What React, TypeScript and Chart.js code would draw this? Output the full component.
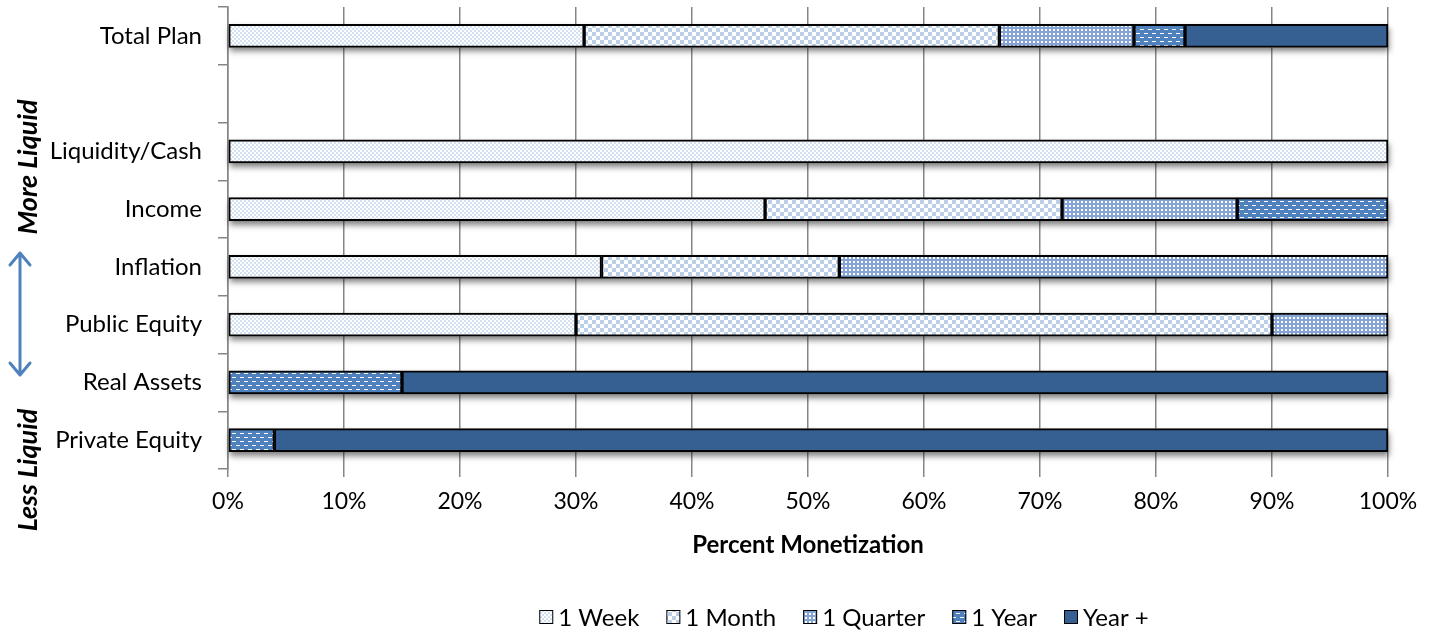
import React, { useEffect, useRef } from "react";
import { Chart, registerables } from "chart.js";

Chart.register(...registerables);

const categories = ["Total Plan", "", "Liquidity/Cash", "Income", "Inflation", "Public Equity", "Real Assets", "Private Equity"];
const seriesNames = ["1 Week", "1 Month", "1 Quarter", "1 Year", "Year +"];
const week = [30.7, null, 100, 46.3, 32.2, 30, null, null];
const month = [35.8, null, null, 25.6, 20.5, 60, null, null];
const quarter = [11.6, null, null, 15.1, 47.3, 10, null, null];
const year = [4.4, null, null, 13.0, null, null, 15, 4];
const yearPlus = [17.5, null, null, null, null, null, 85, 96];
const xTicks = [0, 10, 20, 30, 40, 50, 60, 70, 80, 90, 100];
const axisTitle = "Percent Monetization";
const sideTop = "More Liquid";
const sideBottom = "Less Liquid";

const FONT = "Lato, 'Open Sans', sans-serif";

function makePattern(kind: string): CanvasPattern | string {
  const c = document.createElement("canvas");
  const ctx = c.getContext("2d")!;
  if (kind === "week") {
    c.width = 4; c.height = 4;
    ctx.fillStyle = "#ffffff"; ctx.fillRect(0, 0, 4, 4);
    ctx.fillStyle = "#d3e0f1";
    ctx.fillRect(0, 0, 2, 2); ctx.fillRect(2, 2, 2, 2);
  } else if (kind === "month") {
    c.width = 8; c.height = 8;
    ctx.fillStyle = "#ffffff"; ctx.fillRect(0, 0, 8, 8);
    ctx.fillStyle = "#bccfe8";
    ctx.fillRect(0, 0, 4, 4); ctx.fillRect(4, 4, 4, 4);
  } else if (kind === "quarter") {
    c.width = 4; c.height = 4;
    ctx.fillStyle = "#86a5d6"; ctx.fillRect(0, 0, 4, 4);
    ctx.fillStyle = "#ffffff"; ctx.fillRect(1, 1, 2, 2);
  } else if (kind === "year") {
    c.width = 8; c.height = 8;
    ctx.fillStyle = "#4f81bd"; ctx.fillRect(0, 0, 8, 8);
    ctx.fillStyle = "#ffffff";
    ctx.fillRect(0, 1, 4, 1); ctx.fillRect(4, 5, 4, 1);
  } else {
    return "#366092";
  }
  return ctx.createPattern(c, "repeat")!;
}

export default function App() {
  const ref = useRef<HTMLCanvasElement>(null);
  useEffect(() => {
    document.body.style.margin = "0";
    const fills = [makePattern("week"), makePattern("month"), makePattern("quarter"), makePattern("year"), makePattern("plus")];
    const values = [week, month, quarter, year, yearPlus];

    const extras = {
      id: "extras",
      beforeDatasetsDraw(chart: any) {
        const ctx = chart.ctx as CanvasRenderingContext2D;
        const n = categories.length;
        ctx.save();
        ctx.shadowColor = "rgba(0,0,0,0.5)";
        ctx.shadowBlur = 6;
        ctx.shadowOffsetY = 4;
        ctx.shadowOffsetX = 1;
        ctx.fillStyle = "#ffffff";
        for (let j = 0; j < n; j++) {
          let minX = Infinity, maxX = -Infinity, y = 0, h = 0;
          for (let i = 0; i < seriesNames.length; i++) {
            const v = values[i][j];
            if (v == null) continue;
            const el = chart.getDatasetMeta(i).data[j];
            if (!el) continue;
            const p = el.getProps(["x", "y", "base", "height"], true);
            minX = Math.min(minX, p.base, p.x);
            maxX = Math.max(maxX, p.base, p.x);
            y = p.y; h = p.height;
          }
          if (minX < maxX) ctx.fillRect(minX, y - h / 2, maxX - minX, h);
        }
        ctx.restore();
      },
      afterDraw(chart: any) {
        const ctx = chart.ctx as CanvasRenderingContext2D;
        ctx.save();
        // axis title
        ctx.fillStyle = "#000";
        ctx.font = `bold 24px ${FONT}`;
        ctx.textAlign = "center";
        ctx.textBaseline = "middle";
        ctx.fillText(axisTitle, 808, 545);
        // legend
        ctx.font = `24px ${FONT}`;
        const box = 14, gapBox = 5, gapItem = 27;
        const widths = seriesNames.map((n) => ctx.measureText(n).width);
        const total = widths.reduce((a, w) => a + box + gapBox + w, 0) + gapItem * (seriesNames.length - 1);
        let x = 844 - total / 2;
        const ly = 617;
        ctx.textAlign = "left";
        seriesNames.forEach((n, i) => {
          ctx.fillStyle = fills[i] as any;
          ctx.fillRect(x, ly - box / 2, box, box);
          ctx.strokeStyle = "#000";
          ctx.lineWidth = 1;
          ctx.strokeRect(x + 0.5, ly - box / 2 + 0.5, box - 1, box - 1);
          ctx.fillStyle = "#000";
          ctx.fillText(n, x + box + gapBox, ly + 1);
          x += box + gapBox + widths[i] + gapItem;
        });
        // side labels
        ctx.font = `italic bold 27px ${FONT}`;
        ctx.textAlign = "center";
        ctx.textBaseline = "middle";
        ctx.save();
        ctx.translate(28, 167);
        ctx.rotate(-Math.PI / 2);
        ctx.fillText(sideTop, 0, 0);
        ctx.restore();
        ctx.save();
        ctx.translate(28, 470);
        ctx.rotate(-Math.PI / 2);
        ctx.fillText(sideBottom, 0, 0);
        ctx.restore();
        // double arrow
        ctx.strokeStyle = "#4f81bd";
        ctx.lineWidth = 3;
        ctx.lineCap = "round";
        ctx.lineJoin = "round";
        const ax = 20, y1 = 253, y2 = 375;
        ctx.beginPath();
        ctx.moveTo(ax, y1); ctx.lineTo(ax, y2);
        ctx.moveTo(ax - 10, y1 + 12); ctx.lineTo(ax, y1); ctx.lineTo(ax + 10, y1 + 12);
        ctx.moveTo(ax - 10, y2 - 12); ctx.lineTo(ax, y2); ctx.lineTo(ax + 10, y2 - 12);
        ctx.stroke();
        ctx.restore();
      },
    };

    const chart = new Chart(ref.current!, {
      type: "bar",
      data: {
        labels: categories,
        datasets: seriesNames.map((name, i) => ({
          label: name,
          data: values[i] as any,
          backgroundColor: fills[i] as any,
          borderColor: "#000000",
          borderWidth: 2,
          borderSkipped: false,
          barThickness: 23,
        })),
      },
      options: {
        indexAxis: "y",
        responsive: false,
        animation: false,
        layout: { padding: { top: 7, right: 47, left: 0, bottom: 0 } },
        plugins: { legend: { display: false }, tooltip: { enabled: false }, title: { display: false } },
        scales: {
          x: {
            stacked: true,
            min: 0,
            max: 100,
            afterBuildTicks: (s: any) => { s.ticks = xTicks.map((v) => ({ value: v })); },
            ticks: { callback: (v: any) => `${v}%`, color: "#000", font: { family: FONT, size: 23 }, padding: 11, maxRotation: 0 },
            grid: { color: "#868686", lineWidth: 1.5, tickLength: 8, drawTicks: true },
            border: { display: false },
            afterFit: (s: any) => { s.height = 164; s.paddingLeft = 0; s.paddingRight = 0; },
          },
          y: {
            stacked: true,
            ticks: { color: "#000", font: { family: FONT, size: 24 }, padding: 16 },
            grid: { drawOnChartArea: false, color: "#868686", lineWidth: 1.5, tickLength: 10, offset: true },
            border: { display: true, color: "#868686", width: 1.5 },
            afterFit: (s: any) => { s.width = 228; s.paddingTop = 0; s.paddingBottom = 0; },
          },
        },
      },
      plugins: [extras],
    });
    return () => chart.destroy();
  }, []);
  return <canvas ref={ref} width={1435} height={633} style={{ display: "block" }} />;
}
